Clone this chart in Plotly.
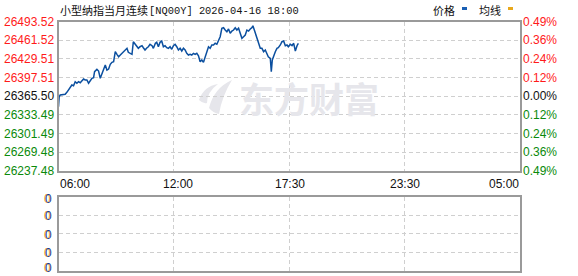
import plotly.graph_objects as go

# ---------------- data ----------------
times = ["06:00","06:02","06:05","06:15","06:20","06:25","06:30","06:35","06:40","06:45",
         "06:50","06:55","07:00","07:05","07:10","07:15","07:20","07:25","07:30","07:35",
         "07:40","07:45","07:48","07:55","08:00","08:05","08:10","08:15","08:20","08:25",
         "08:30","08:35","08:40","08:45","08:50","08:55","09:00","09:05","09:10","09:15",
         "09:20","09:25","09:29","09:35","09:40","09:44","09:50","09:55","09:59","10:04",
         "10:10","10:14","10:19","10:25","10:29","10:34","10:40","10:44","10:50","10:54",
         "10:59","11:04","11:09","11:14","11:19","11:24","11:29","11:34","11:39","11:44",
         "11:49","11:54","11:59","12:04","12:09","12:14","12:19","12:24","12:29","12:34",
         "12:39","12:44","12:49","12:54","12:59","13:04","13:09","13:14","13:19","13:24",
         "13:29","13:34","13:39","13:44","13:49","13:54","13:59","14:04","14:09","14:14",
         "14:19","14:24","14:29","14:34","14:39","14:44","14:49","14:54","14:59","15:04",
         "15:09","15:14","15:19","15:24","15:29","15:34","15:39","15:42","15:46","15:49",
         "15:54","15:59","16:04","16:09","16:14","16:19","16:24","16:28","16:34","16:37",
         "16:40","16:43","16:49","16:54","16:58","17:04","17:09","17:14","17:19","17:24",
         "17:28","17:34","17:39","17:44","17:49","17:54","17:58"]
prices = [26347.6,26364.7,26367.6,26367.6,26368.8,26372.2,26376.2,26380.1,26384.7,26383.5,
          26390.4,26387.7,26390.4,26388.7,26391.6,26395.0,26393.3,26393.3,26387.7,26391.6,
          26396.2,26397.2,26407.5,26411.6,26408.7,26396.2,26404.8,26414.4,26419.0,26410.4,
          26412.1,26420.2,26423.6,26424.6,26441.8,26437.3,26433.2,26436.1,26439.0,26440.7,
          26444.7,26447.6,26440.7,26439.0,26437.3,26458.9,26454.5,26452.1,26447.6,26450.3,
          26452.1,26448.6,26444.7,26448.6,26450.3,26454.5,26452.1,26447.6,26456.2,26457.9,
          26450.3,26457.9,26460.1,26450.3,26452.1,26448.6,26447.6,26450.3,26445.9,26452.1,
          26454.5,26450.3,26444.7,26447.6,26443.0,26447.6,26444.7,26439.0,26436.1,26437.3,
          26436.1,26439.0,26437.3,26439.0,26434.9,26424.6,26427.6,26423.6,26433.2,26439.0,
          26450.3,26447.6,26453.3,26453.3,26456.2,26454.5,26461.8,26467.5,26481.9,26482.9,
          26478.9,26476.0,26480.7,26473.3,26477.2,26478.9,26482.9,26478.9,26481.9,26473.3,
          26464.7,26467.5,26470.4,26478.9,26477.2,26480.7,26482.9,26486.3,26478.9,26476.0,
          26467.5,26458.9,26447.6,26447.6,26441.8,26444.7,26436.1,26433.2,26430.5,26407.5,
          26427.6,26433.2,26441.8,26447.6,26448.6,26453.3,26458.9,26460.1,26452.1,26453.3,
          26450.3,26454.5,26452.1,26456.2,26443.0,26452.1,26456.2]

prev_close = 26365.50
price_ticks = [26237.48, 26269.48, 26301.49, 26333.49, 26365.50, 26397.51, 26429.51, 26461.52, 26493.52]
pct_labels = ["0.49%", "0.36%", "0.24%", "0.12%", "0.00%", "0.12%", "0.24%", "0.36%", "0.49%"]
x_tick_labels = ["06:00", "12:00", "17:30", "23:30", "05:00"]
volume_ticks = [0, 1, 2, 3, 4]
volume_labels = ["0", "0", "0", "0", "0"]
title_cn = "小型纳指当月连续"
title_code = "[NQ00Y] 2026-04-16 18:00"
session_minutes = 1380  # 06:00 -> 05:00 next day


def to_offset(t):
    h, m = map(int, t.split(":"))
    return ((h * 60 + m) - 6 * 60) % 1440


xs = [to_offset(t) for t in times]
ys = prices

W, H = 578, 276
def px(x):
    return x / W
def py(y):
    return 1 - y / H

X0, X1 = 58.5, 519.5
Y0, Y1 = 21.5, 171.0
V0, V1 = 196.7, 270.5

RED = "#ff1a1a"
GREEN = "#0a8a0a"
BLACK = "#111111"
GRID = "#cfcfcf"
BORDER = "#9a9a9a"

fig = go.Figure()
fig.add_trace(go.Scatter(x=xs, y=ys, mode="lines",
                         line=dict(color="#0b4f9f", width=1.5),
                         hoverinfo="skip", xaxis="x", yaxis="y"))
fig.add_trace(go.Scatter(x=[None], y=[None], mode="lines",
                         hoverinfo="skip", xaxis="x2", yaxis="y2"))

tickpos = [session_minutes * i / 4 for i in range(5)]

axis_common = dict(showline=True, linecolor=BORDER, linewidth=1.6, mirror=True,
                   showgrid=True, gridcolor=GRID, gridwidth=1, griddash="4px,3px",
                   zeroline=False, showticklabels=False, ticks="", fixedrange=True)

fig.update_layout(
    width=W, height=H, autosize=False,
    margin=dict(l=0, r=0, t=0, b=0),
    paper_bgcolor="white", plot_bgcolor="white",
    showlegend=False,
    xaxis=dict(domain=[px(X0), px(X1)], range=[0, session_minutes],
               tickvals=tickpos[1:4], anchor="y", **axis_common),
    yaxis=dict(domain=[py(Y1), py(Y0)], range=[price_ticks[0], price_ticks[-1]],
               tickvals=price_ticks[1:-1], anchor="x", **axis_common),
    xaxis2=dict(domain=[px(X0), px(X1)], range=[0, session_minutes],
                tickvals=tickpos[1:4], anchor="y2", **axis_common),
    yaxis2=dict(domain=[py(V1), py(V0)], range=[volume_ticks[0], volume_ticks[-1]],
                tickvals=volume_ticks[1:-1], anchor="x2", **axis_common),
)

ann = []
num_font = "Liberation Sans, Arial, sans-serif"
for v, p in zip(price_ticks, pct_labels):
    if abs(v - prev_close) < 0.01:
        c = BLACK
    elif v > prev_close:
        c = RED
    else:
        c = GREEN
    ann.append(dict(x=px(56), xref="paper", xanchor="right", y=v, yref="y", yanchor="middle",
                    text=f"{v:.2f}", showarrow=False, font=dict(family=num_font, size=12, color=c)))
    ann.append(dict(x=px(521), xref="paper", xanchor="left", y=v, yref="y", yanchor="middle",
                    text=p, showarrow=False, font=dict(family=num_font, size=12, color=c)))

n_vol = len(volume_ticks)
for i, (v, t) in enumerate(zip(volume_ticks, volume_labels)):
    shift = 3 if i == 0 else (-2 if i == n_vol - 1 else -1)
    ann.append(dict(x=px(47.3), xref="paper", xanchor="center", y=v, yref="y2", yanchor="middle",
                    yshift=shift, text=t, showarrow=False,
                    font=dict(family=num_font, size=12, color="#f0a020")))
    ann.append(dict(x=px(48.5), xref="paper", xanchor="center", y=v, yref="y2", yanchor="middle",
                    yshift=shift, text=t, showarrow=False,
                    font=dict(family=num_font, size=12, color="#1a3f8f")))

xl_pos = [(X0 - 1, "left"), (177.5, "center"), (290, "center"), (405, "center"), (X1 + 1, "right")]
for (xp, anc), lab in zip(xl_pos, x_tick_labels):
    ann.append(dict(x=px(xp), xref="paper", xanchor=anc, y=py(184), yref="paper", yanchor="middle",
                    text=lab, showarrow=False, font=dict(family=num_font, size=12, color=BLACK)))

# title
ann.append(dict(x=px(58), xref="paper", xanchor="left", y=py(10), yref="paper", yanchor="middle",
                text=title_cn, showarrow=False,
                font=dict(family="Noto Sans CJK SC", size=11, color=BLACK)))
ann.append(dict(x=px(147), xref="paper", xanchor="left", y=py(10.5), yref="paper", yanchor="middle",
                text=title_code, showarrow=False,
                font=dict(family="Liberation Mono, DejaVu Sans Mono, monospace", size=10.4, color=BLACK)))
# legend
ann.append(dict(x=px(431), xref="paper", xanchor="left", y=py(10), yref="paper", yanchor="middle",
                text="价格", showarrow=False, font=dict(family="Noto Sans CJK SC", size=11, color=BLACK)))
ann.append(dict(x=px(477), xref="paper", xanchor="left", y=py(10), yref="paper", yanchor="middle",
                text="均线", showarrow=False, font=dict(family="Noto Sans CJK SC", size=11, color=BLACK)))
# watermark
ann.append(dict(x=px(309), xref="paper", xanchor="center", y=py(97.5), yref="paper", yanchor="middle",
                text="<b>东方财富</b>", showarrow=False,
                font=dict(family="Noto Sans CJK SC", size=35, color="#e6e6eb")))

shapes = [
    dict(type="rect", xref="paper", yref="paper", x0=px(462), x1=px(467), y0=py(10), y1=py(7),
         fillcolor="#1a5fb4", line=dict(width=0), layer="above"),
    dict(type="rect", xref="paper", yref="paper", x0=px(508), x1=px(513), y0=py(10), y1=py(7),
         fillcolor="#e8a81c", line=dict(width=0), layer="above"),
]
# watermark logo (stylised swoosh)
def pth(points):
    s = ""
    for cmd, pts in points:
        s += cmd + " " + " ".join(f"{px(a):.5f},{py(b):.5f}" for a, b in pts) + " "
    return s + "Z"
logo = pth([("M", [(199, 100)]), ("Q", [(204, 86), (218, 84)]), ("Q", [(207, 92), (207, 103)]),
            ("Q", [(203, 104), (199, 100)])])
logo2 = pth([("M", [(209, 108)]), ("Q", [(214, 88), (232, 80)]), ("Q", [(222, 96), (219, 114)]),
             ("Q", [(213, 113), (209, 108)])])
for d in (logo, logo2):
    shapes.append(dict(type="path", path=d, xref="paper", yref="paper",
                       fillcolor="#e6e6eb", line=dict(width=0), layer="below"))

fig.update_layout(annotations=ann, shapes=shapes)
fig.write_html("out.html")
